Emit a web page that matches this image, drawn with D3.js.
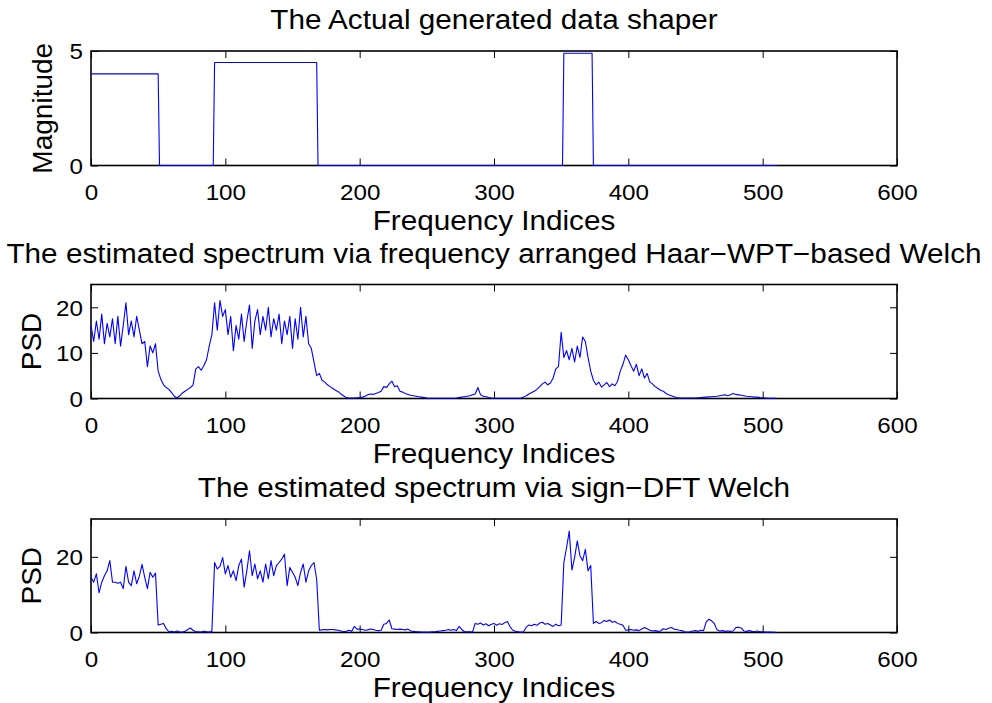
<!DOCTYPE html>
<html><head><meta charset="utf-8">
<script src="https://cdn.jsdelivr.net/npm/d3@7"></script>
<style>body{margin:0;background:#fff;} svg{display:block;}</style>
</head><body>
<svg id="c" width="992" height="703"></svg>
<script>
// ---------------- DATA ----------------
const xTickValues = [0, 100, 200, 300, 400, 500, 600];
const titles = [
  "The Actual generated data shaper",
  "The estimated spectrum via frequency arranged Haar\u2212WPT\u2212based Welch",
  "The estimated spectrum via sign\u2212DFT Welch"
];
const yLabels = ["Magnitude", "PSD", "PSD"];
const xLabelText = "Frequency Indices";
const yDomains = [[0, 5], [0, 25], [0, 30]];
const yTickValues = [[0, 5], [0, 10, 20], [0, 20]];

// panel 1: shaper (breakpoints of the step function)
const shaperIdx = [0, 50, 51, 91, 92, 168, 169, 351, 352, 373, 374, 511];
const shaperVal = [4, 4, 0, 0, 4.5, 4.5, 0, 0, 4.9, 4.9, 0, 0];

// panel 2 & 3: PSD values sampled every 2 frequency indices (0..510)
const psdStep = 2;
const haarPsd = [
  16, 12.5, 17, 13, 18.5, 12, 16.5, 13.5, 17.5, 12,
  18, 11.5, 16, 21, 14, 17, 13.5, 18, 15, 12,
  12.5, 7, 11.5, 10, 12, 6, 4.2, 3, 2.4, 2,
  1.3, 0.5, 0.1, 0.6, 1.2, 1.6, 2, 2.4, 3, 6.5,
  7, 6.2, 7.2, 8.5, 11.5, 14, 21, 15, 21.5, 18,
  19.5, 14, 18, 10.5, 16, 13, 18.5, 12.5, 17, 20.5,
  11, 17, 19.5, 14, 18, 15, 20, 13.5, 17.5, 15,
  18.5, 12, 17, 14, 18, 11, 17.5, 13, 20, 13.5,
  18, 12, 11, 8, 5, 5.5, 4, 3.6, 3, 2.6,
  2.2, 1.8, 1.5, 1, 0.6, 0.2, 0.1, 0.1, 0.1, 0.15,
  0.2, 0.3, 0.5, 0.8, 1.0, 0.9, 1.1, 1.3, 1.6, 2.6,
  2.4, 3.2, 3.8, 2.6, 2.8, 1.6, 1.4, 1.1, 0.9, 0.7,
  0.6, 0.5, 0.4, 0.3, 0.2, 0.1, 0.05, 0.05, 0.05, 0.05,
  0.05, 0.05, 0.05, 0.05, 0.05, 0.05, 0.1, 0.2, 0.3, 0.4,
  0.5, 0.6, 0.8, 1.0, 2.4, 0.8, 0.5, 0.4, 0.2, 0.1,
  0.05, 0.05, 0.05, 0.05, 0.05, 0.05, 0.05, 0.05, 0.05, 0.05,
  0.1, 0.3, 0.6, 1.0, 1.3, 1.6, 2.0, 2.6, 3.2, 3.6,
  3.0, 3.4, 4.5, 6.5, 7, 14.5, 9, 10.5, 8.5, 11,
  8, 11.5, 9, 13.5, 12.5, 9, 6, 4, 3, 3.6,
  2.5, 3, 3.5, 2.6, 3.2, 2.8, 3.8, 6, 7.5, 9.5,
  8.5, 7.2, 6, 7.5, 5, 6.5, 4.5, 5.5, 3.6, 3.2,
  2.6, 2.2, 1.8, 1.6, 1.1, 0.8, 0.6, 0.4, 0.2, 0.1,
  0.1, 0.1, 0.1, 0.1, 0.1, 0.1, 0.15, 0.2, 0.25, 0.3,
  0.35, 0.4, 0.45, 0.5, 0.6, 0.7, 0.8, 0.6, 0.8, 1.1,
  0.9, 0.8, 0.7, 0.6, 0.5, 0.45, 0.4, 0.3, 0.3, 0.2,
  0.15, 0.1, 0.05, 0.05, 0.05, 0.02
];
const signPsd = [
  14.6, 13.3, 15.5, 10.5, 13.3, 15, 16.3, 19, 13.3, 13.3,
  13, 13.3, 11.6, 17.5, 13.3, 12.4, 16.3, 12.9, 14.9, 18,
  14.6, 11.6, 15.9, 14.6, 15.7, 2, 2.2, 2.4, 1, 0.2,
  0.3, 0.1, 0.4, 0.2, 0.1, 0.3, 0.8, 1.2, 0.6, 0.2,
  0.2, 0.1, 0.3, 0.2, 0.1, 0.3, 18.5, 16.8, 17.5, 19.8,
  15.5, 17.7, 14.6, 16.3, 13.7, 17.7, 19.4, 12, 16.3, 21.6,
  15, 18.1, 14.2, 16.3, 13.3, 18.1, 14.2, 19, 15, 17.7,
  18.5, 19.4, 20.7, 12.4, 17.2, 15.9, 14.6, 12.4, 15.9, 18.1,
  13.3, 16.3, 17.7, 18.5, 14, 0.6, 0.7, 0.8, 0.7, 0.8,
  0.8, 0.7, 0.6, 0.4, 0.2, 0.3, 0.6, 0.3, 1.6, 0.9,
  0.9, 0.8, 0.6, 0.7, 0.9, 0.8, 0.6, 0.5, 0.6, 2.2,
  2.4, 3.3, 1, 0.9, 0.8, 0.9, 0.8, 0.7, 0.9, 0.4,
  0.3, 0.2, 0.2, 0.1, 0.1, 0.1, 0.1, 0.2, 0.2, 0.3,
  0.4, 0.5, 0.6, 0.8, 0.6, 0.8, 0.5, 1.6, 0.8, 0.2,
  0.2, 0.2, 0.1, 2.4, 2.2, 2.5, 2, 2.3, 1.8, 2.2,
  2.4, 1.9, 2.3, 2.1, 2.6, 2.9, 1.5, 0.6, 0.3, 0.2,
  0.1, 0.2, 1.4, 2, 1.8, 2.2, 1.9, 2.5, 2.7, 2.2,
  2.4, 2, 1.6, 2.2, 1.8, 2, 18.5, 22.4, 26.8, 16.5,
  19.8, 24.2, 20.3, 19, 22, 16.3, 17.7, 2.4, 2.9, 2.4,
  2.6, 3.2, 2.9, 3.3, 2.7, 2.9, 2.4, 2.2, 1.9, 0.6,
  0.7, 0.8, 0.6, 0.7, 0.5, 0.9, 1.3, 1, 0.6, 0.4,
  0.5, 0.3, 0.4, 1.0, 0.8, 1.1, 1.3, 0.9, 0.8, 0.6,
  0.5, 0.2, 0.1, 0.2, 0.4, 0.5, 0.3, 0.6, 0.5, 2.8,
  3.5, 3.1, 2.4, 0.7, 0.4, 0.5, 0.3, 0.4, 0.3, 0.4,
  1.3, 1.4, 1.2, 0.4, 0.3, 0.5, 0.3, 0.2, 0.4, 0.2,
  0.2, 0.1, 0.1, 0.1, 0.05, 0.05
];

// ---------------- LAYOUT ----------------
const plotLeft = 91, plotRight = 897;
const panelTop = [51, 284.5, 519];
const panelBottom = [165.5, 398.5, 632.5];
const yLabelX = [52, 41, 41];
const FONT = "'Liberation Sans', Arial, Helvetica, sans-serif";
const STRETCH = 1.1;

const series = [
  shaperIdx.map((x, i) => [x, shaperVal[i]]),
  haarPsd.map((v, i) => [i * psdStep, v]),
  signPsd.map((v, i) => [i * psdStep, v])
];

const svg = d3.select("#c");
svg.append("rect").attr("width", 992).attr("height", 703).attr("fill", "#fff");

function stretch(sel, k) {
  sel.each(function () {
    const l = this.getComputedTextLength();
    this.setAttribute("textLength", l * k);
    this.setAttribute("lengthAdjust", "spacingAndGlyphs");
  });
}

const x = d3.scaleLinear().domain([0, 600]).range([plotLeft, plotRight]);
const fmt = d3.format("d");

for (let p = 0; p < 3; p++) {
  const top = panelTop[p], bot = panelBottom[p];
  const y = d3.scaleLinear().domain(yDomains[p]).range([bot, top]);
  const g = svg.append("g");

  g.append("rect").attr("x", plotLeft).attr("y", top)
    .attr("width", plotRight - plotLeft).attr("height", bot - top).attr("fill", "#fff");

  // axes (ticks inside, mirrored)
  const bottomAx = g.append("g").attr("transform", `translate(0,${bot})`)
    .call(d3.axisBottom(x).tickValues(xTickValues).tickFormat(fmt).tickSizeInner(-7).tickSizeOuter(0).tickPadding(0));
  bottomAx.selectAll("text").attr("y", 34).attr("dy", null)
    .attr("font-size", 22).attr("font-family", FONT).attr("fill", "#000");
  g.append("g").attr("transform", `translate(0,${top})`)
    .call(d3.axisTop(x).tickValues(xTickValues).tickSizeInner(-7).tickSizeOuter(0).tickFormat(""));
  const leftAx = g.append("g").attr("transform", `translate(${plotLeft},0)`)
    .call(d3.axisLeft(y).tickValues(yTickValues[p]).tickFormat(fmt).tickSizeInner(-7).tickSizeOuter(0).tickPadding(0));
  leftAx.selectAll("text").attr("x", -8).attr("dy", "0.36em")
    .attr("font-size", 22).attr("font-family", FONT).attr("fill", "#000");
  g.append("g").attr("transform", `translate(${plotRight},0)`)
    .call(d3.axisRight(y).tickValues(yTickValues[p]).tickSizeInner(-7).tickSizeOuter(0).tickFormat(""));
  g.selectAll(".domain").remove();
  g.selectAll(".tick line").attr("stroke", "#000").attr("stroke-width", 1);
  stretch(bottomAx.selectAll("text"), STRETCH);
  stretch(leftAx.selectAll("text"), STRETCH);

  // box
  g.append("rect").attr("x", plotLeft).attr("y", top)
    .attr("width", plotRight - plotLeft).attr("height", bot - top)
    .attr("fill", "none").attr("stroke", "#000").attr("stroke-width", 1.6);

  // data line
  g.append("path").datum(series[p])
    .attr("d", d3.line().x(d => x(d[0])).y(d => y(d[1])))
    .attr("fill", "none").attr("stroke", "#0000ff").attr("stroke-width", 1.1)
    .attr("stroke-linejoin", "round");

  // title
  const t = g.append("text").attr("x", (plotLeft + plotRight) / 2).attr("y", top - 22)
    .attr("text-anchor", "middle").attr("font-size", 27).attr("font-family", FONT)
    .text(titles[p]);
  stretch(t, STRETCH);

  // x label
  const xl = g.append("text").attr("x", (plotLeft + plotRight) / 2).attr("y", bot + 64.5)
    .attr("text-anchor", "middle").attr("font-size", 27).attr("font-family", FONT)
    .text(xLabelText);
  stretch(xl, STRETCH);

  // y label
  g.append("text")
    .attr("transform", `translate(${yLabelX[p]},${(top + bot) / 2}) rotate(-90)`)
    .attr("text-anchor", "middle").attr("font-size", 28).attr("font-family", FONT)
    .text(yLabels[p]);
}
</script>
</body></html>
